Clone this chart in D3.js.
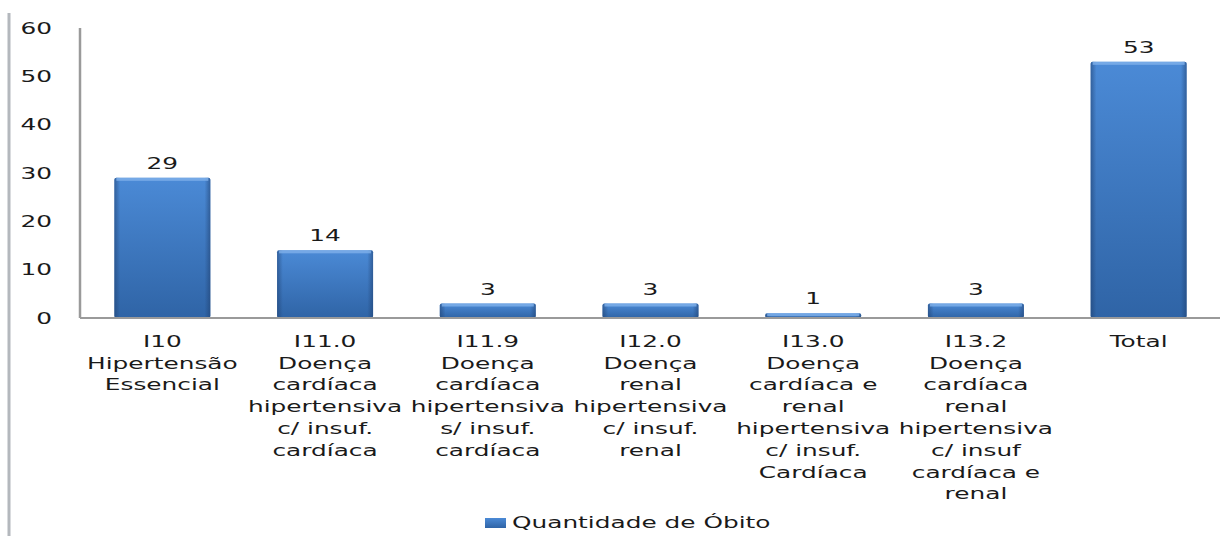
<!DOCTYPE html>
<html>
<head>
<meta charset="utf-8">
<script src="https://cdn.jsdelivr.net/npm/d3@7"></script>
<style>
    body { margin: 0; background: #fff; }
    text { font-family: 'DejaVu Sans', Verdana, sans-serif; font-size: 16px; fill: #1a1a1a; }
</style>
</head>
<body>
<div id="chart"></div>
<script>
// data
var categories = ["I10", "I11.0", "I11.9", "I12.0", "I13.0", "I13.2", "Total"];
var labelLines = [
    ["I10", "Hipertensão", "Essencial"],
    ["I11.0", "Doença", "cardíaca", "hipertensiva", "c/ insuf.", "cardíaca"],
    ["I11.9", "Doença", "cardíaca", "hipertensiva", "s/ insuf.", "cardíaca"],
    ["I12.0", "Doença", "renal", "hipertensiva", "c/ insuf.", "renal"],
    ["I13.0", "Doença", "cardíaca e", "renal", "hipertensiva", "c/ insuf.", "Cardíaca"],
    ["I13.2", "Doença", "cardíaca", "renal", "hipertensiva", "c/ insuf", "cardíaca e", "renal"],
    ["Total"]
];
var obitos = [29, 14, 3, 3, 1, 3, 53];
var yTicks = [0, 10, 20, 30, 40, 50, 60];
var seriesName = "Quantidade de Óbito";

var width = 1227, height = 536;
var sx = 1.55; // text in the picture is stretched sideways

var svg = d3.select("#chart").append("svg")
    .attr("width", width)
    .attr("height", height);

var defs = svg.append("defs");
var grad = defs.append("linearGradient").attr("id", "barGrad")
    .attr("x1", 0).attr("y1", 0).attr("x2", 0).attr("y2", 1);
grad.append("stop").attr("offset", "0%").attr("stop-color", "#4b8ad6");
grad.append("stop").attr("offset", "100%").attr("stop-color", "#2f64a6");
var side = defs.append("linearGradient").attr("id", "sideGrad")
    .attr("x1", 0).attr("y1", 0).attr("x2", 1).attr("y2", 0);
side.append("stop").attr("offset", "0%").attr("stop-color", "#1f3f6e").attr("stop-opacity", 0.55);
side.append("stop").attr("offset", "6%").attr("stop-color", "#1f3f6e").attr("stop-opacity", 0);
side.append("stop").attr("offset", "94%").attr("stop-color", "#1f3f6e").attr("stop-opacity", 0);
side.append("stop").attr("offset", "100%").attr("stop-color", "#1f3f6e").attr("stop-opacity", 0.55);

var x = d3.scaleBand()
    .domain(categories)
    .range([81, 1220])
    .paddingInner(0.41)
    .paddingOuter(0.205);

var y = d3.scaleLinear()
    .domain([0, 60])
    .range([318, 28]);

// outer frame line on the left
svg.append("line")
    .attr("x1", 9).attr("x2", 9)
    .attr("y1", 13).attr("y2", height)
    .attr("stroke", "#b4b8bd").attr("stroke-width", 3);

// y axis line
svg.append("line")
    .attr("x1", 80).attr("x2", 80)
    .attr("y1", y(60)).attr("y2", y(0))
    .attr("stroke", "#9a9a9a").attr("stroke-width", 2.5);

// y tick labels
svg.selectAll(".ytick")
    .data(yTicks)
    .enter().append("text")
    .attr("class", "ytick")
    .attr("transform", function(d) { return "translate(52," + y(d) + ") scale(" + sx + ",1)"; })
    .attr("dy", "0.36em")
    .style("text-anchor", "end")
    .text(function(d) { return d; });

// bars
var bars = svg.selectAll(".bar")
    .data(obitos)
    .enter().append("g")
    .attr("class", "bar");

bars.append("rect")
    .attr("x", function(d, i) { return x(categories[i]); })
    .attr("y", function(d) { return y(d); })
    .attr("width", x.bandwidth())
    .attr("height", function(d) { return y(0) - y(d); })
    .attr("rx", 2)
    .style("fill", "url(#barGrad)");

bars.append("rect")
    .attr("x", function(d, i) { return x(categories[i]); })
    .attr("y", function(d) { return y(d); })
    .attr("width", x.bandwidth())
    .attr("height", function(d) { return y(0) - y(d); })
    .attr("rx", 2)
    .style("fill", "url(#sideGrad)");

// top highlight
bars.append("rect")
    .attr("x", function(d, i) { return x(categories[i]) + 2; })
    .attr("y", function(d) { return y(d); })
    .attr("width", x.bandwidth() - 4)
    .attr("height", function(d) { return Math.min(3, y(0) - y(d)); })
    .style("fill", "#7fb0ea")
    .style("opacity", 0.8);

// value labels
bars.append("text")
    .attr("transform", function(d, i) {
        return "translate(" + (x(categories[i]) + x.bandwidth() / 2) + "," + (y(d) - 9) + ") scale(" + sx + ",1)";
    })
    .style("text-anchor", "middle")
    .text(function(d) { return d; });

// x axis line
svg.append("line")
    .attr("x1", 80).attr("x2", 1220)
    .attr("y1", y(0)).attr("y2", y(0))
    .attr("stroke", "#9a9a9a").attr("stroke-width", 2);

// category labels
var lineH = 21.8;
var cat = svg.selectAll(".cat")
    .data(labelLines)
    .enter().append("g")
    .attr("class", "cat")
    .attr("transform", function(d, i) { return "translate(" + (x(categories[i]) + x.bandwidth() / 2) + ",0)"; });

cat.selectAll("text")
    .data(function(d) { return d; })
    .enter().append("text")
    .attr("transform", function(d, j) { return "translate(0," + (341 + j * lineH) + ") scale(" + sx + ",1)"; })
    .attr("dy", "0.36em")
    .style("text-anchor", "middle")
    .text(function(d) { return d; });

// legend
var legend = svg.append("g").attr("transform", "translate(485,522)");
legend.append("rect")
    .attr("x", 0).attr("y", -4)
    .attr("width", 21).attr("height", 10)
    .style("fill", "url(#barGrad)");
legend.append("text")
    .attr("transform", "translate(27,0) scale(" + sx + ",1)")
    .attr("dy", "0.36em")
    .text(seriesName);
</script>
</body>
</html>
